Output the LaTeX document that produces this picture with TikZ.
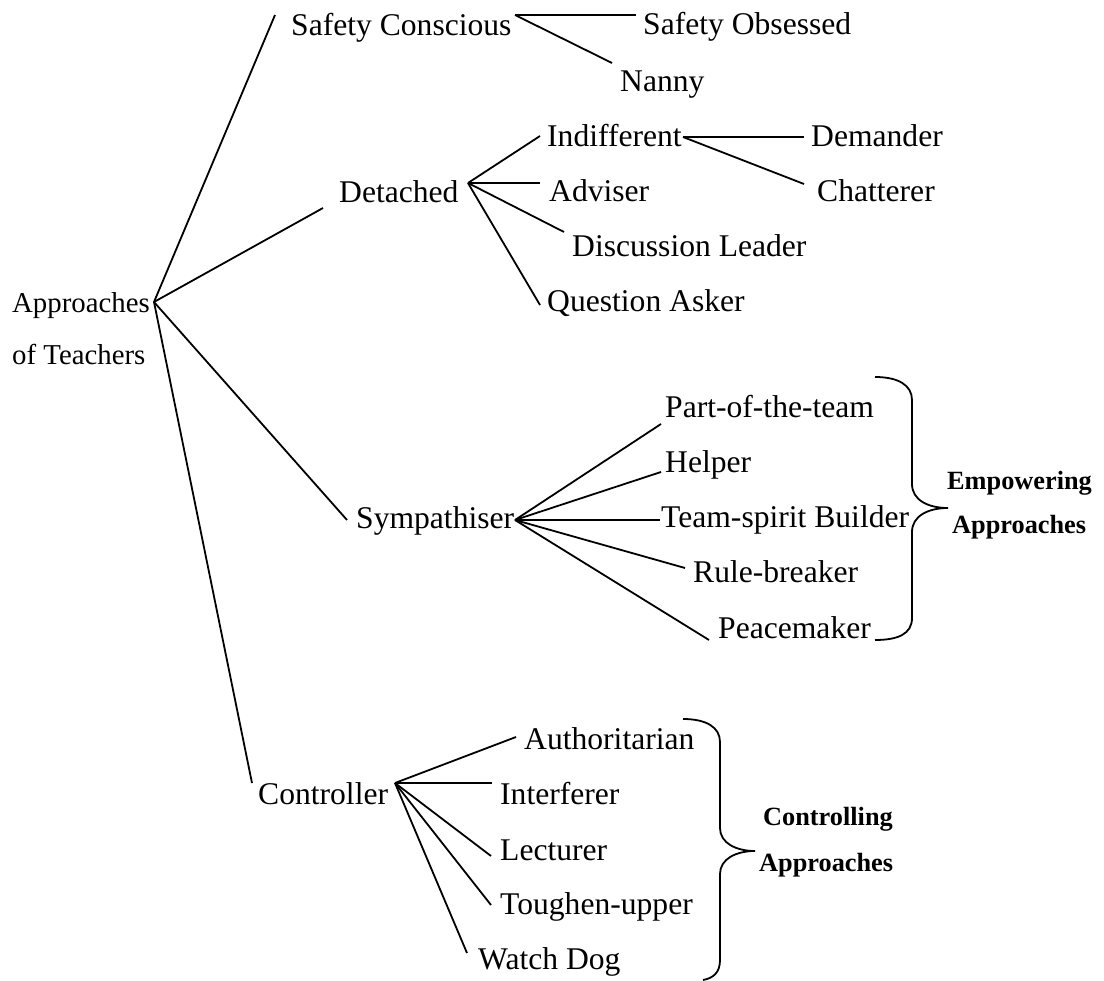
\documentclass[tikz,border=0pt]{standalone}
\usepackage{fontspec}
\setmainfont{Liberation Serif}
\begin{document}
\begin{tikzpicture}[x=1pt,y=-1pt,
  lbl/.style={anchor=base west,inner sep=0pt,font=\fontsize{31.6pt}{38pt}\selectfont},
  rootlbl/.style={anchor=base west,inner sep=0pt,font=\fontsize{28.8pt}{35pt}\selectfont},
  blbl/.style={anchor=base west,inner sep=0pt,font=\fontsize{26.3pt}{32pt}\selectfont\bfseries},
  conn/.style={draw=black,line width=1.8pt},
  brace/.style={draw=black,line width=1.8pt}]
\useasboundingbox (0,0) rectangle (1104,981);
% ---------- texts ----------
\node[rootlbl] (ap1) at (12,313) {Approaches};
\node[rootlbl] (ap2) at (12,365) {of Teachers};
\node[lbl] (sc)  at (291,36) {Safety Conscious};
\node[lbl] (so)  at (643,35) {Safety Obsessed};
\node[lbl] (nan) at (620,92) {Nanny};
\node[lbl] (det) at (339,203) {Detached};
\node[lbl] (ind) at (547,147) {Indifferent};
\node[lbl] (dem) at (811,147) {Demander};
\node[lbl] (adv) at (549,202) {Adviser};
\node[lbl] (cha) at (817,202) {Chatterer};
\node[lbl] (dl)  at (572,257) {Discussion Leader};
\node[lbl] (qa)  at (547,312) {Question Asker};
\node[lbl] (sym) at (356,529) {Sympathiser};
\node[lbl] (pt)  at (665,418) {Part-of-the-team};
\node[lbl] (hel) at (665,473) {Helper};
\node[lbl] (tsb) at (661,528) {Team-spirit Builder};
\node[lbl] (rb)  at (693,583) {Rule-breaker};
\node[lbl] (pm)  at (718,638) {Peacemaker};
\node[blbl] (emp1) at (947,490) {Empowering};
\node[blbl] (emp2) at (952,534) {Approaches};
\node[lbl] (con) at (258,804) {Controller};
\node[lbl] (aut) at (524,749) {Authoritarian};
\node[lbl] (int) at (500,804) {Interferer};
\node[lbl] (lec) at (500,860) {Lecturer};
\node[lbl] (tou) at (500,914) {Toughen-upper};
\node[lbl] (wd)  at (478,969) {Watch Dog};
\node[blbl] (ctl1) at (763,825) {Controlling};
\node[blbl] (ctl2) at (759,871) {Approaches};
% ---------- fork points and line ends ----------
\coordinate (rF) at (154,302);
\coordinate (rSC) at (275,15);
\coordinate (rDet) at (323,208);
\coordinate (rSym) at (347,520);
\coordinate (rCon) at (252,783);
\coordinate (scF) at (515,15);
\coordinate (scSO) at (636,15);
\coordinate (scN) at (612,63);
\coordinate (dF) at (468,183);
\coordinate (dInd) at (540,136);
\coordinate (dAdv) at (540,183);
\coordinate (dDL) at (564,232);
\coordinate (dQA) at (540,305);
\coordinate (iF) at (683,137);
\coordinate (iDem) at (804,137);
\coordinate (iCha) at (804,184);
\coordinate (sF) at (515,520);
\coordinate (sPT) at (661,424);
\coordinate (sHel) at (661,472);
\coordinate (sTSB) at (660,520);
\coordinate (sRB) at (685,568);
\coordinate (sPM) at (709,640);
\coordinate (cF) at (395,783);
\coordinate (cAut) at (516,737);
\coordinate (cInt) at (492,783);
\coordinate (cLec) at (491,856);
\coordinate (cTou) at (491,905);
\coordinate (cWD) at (467,953);
% ---------- connectors ----------
\draw[conn] (rF) -- (rSC);
\draw[conn] (rF) -- (rDet);
\draw[conn] (rF) -- (rSym);
\draw[conn] (rF) -- (rCon);
\draw[conn] (scF) -- (scSO);
\draw[conn] (scF) -- (scN);
\draw[conn] (dF) -- (dInd);
\draw[conn] (dF) -- (dAdv);
\draw[conn] (dF) -- (dDL);
\draw[conn] (dF) -- (dQA);
\draw[conn] (iF) -- (iDem);
\draw[conn] (iF) -- (iCha);
\draw[conn] (sF) -- (sPT);
\draw[conn] (sF) -- (sHel);
\draw[conn] (sF) -- (sTSB);
\draw[conn] (sF) -- (sRB);
\draw[conn] (sF) -- (sPM);
\draw[conn] (cF) -- (cAut);
\draw[conn] (cF) -- (cInt);
\draw[conn] (cF) -- (cLec);
\draw[conn] (cF) -- (cTou);
\draw[conn] (cF) -- (cWD);
% ---------- braces ----------
\draw[brace] (875,377) .. controls (898,377) and (912,385) .. (912,400)
  -- (912,484) .. controls (912,500) and (928,508) .. (948,508)
  .. controls (928,508) and (912,516) .. (912,532)
  -- (912,618) .. controls (912,634) and (898,640) .. (875,640);
\draw[brace] (683,719) .. controls (706,719) and (720,727) .. (720,742)
  -- (720,828) .. controls (720,843) and (736,851) .. (755,851)
  .. controls (736,851) and (720,859) .. (720,874)
  -- (720,960) .. controls (720,972) and (714,978) .. (703,980);
\end{tikzpicture}
\end{document}
